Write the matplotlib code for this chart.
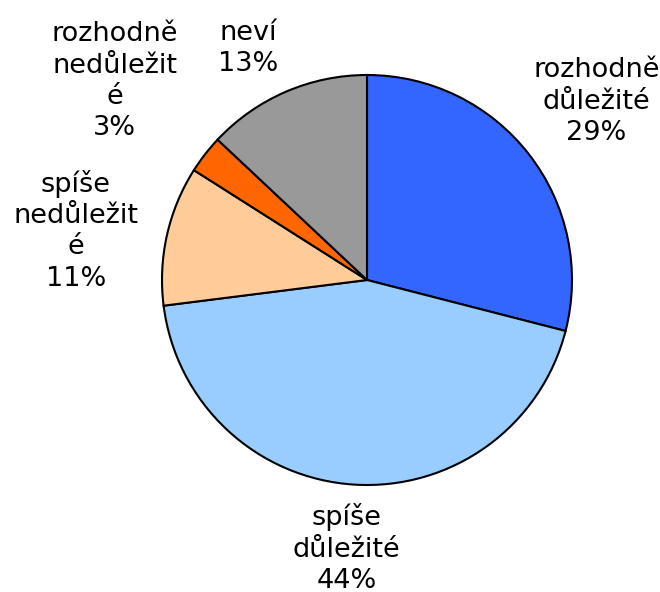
import matplotlib
matplotlib.use("Agg")
import matplotlib.pyplot as plt

labels = ["rozhodně\ndůležité", "spíše\ndůležité", "spíše\nnedůležit\né", "rozhodně\nnedůležit\né", "neví"]
values = [29, 44, 11, 3, 13]
colors = ["#3366FF", "#99CCFF", "#FFCC99", "#FF6600", "#999999"]
# label positions in pie units (radius = 1)
label_pos = [(1.12, 0.87), (-0.10, -1.31), (-1.42, 0.24), (-1.23, 0.97), (-0.58, 1.13)]

fig = plt.figure(figsize=(6.6, 5.92), dpi=100)
ax = fig.add_axes([0, 0, 1, 1])

ax.pie(values, colors=colors, startangle=90, counterclock=False,
       wedgeprops=dict(edgecolor="black", linewidth=1.5))

for lab, v, (x, y) in zip(labels, values, label_pos):
    ax.text(x, y, f"{lab}\n{v}%", ha="center", va="center",
            fontsize=19.5, linespacing=1.26, family="DejaVu Sans")

r = 205.0
ax.set_xlim(-367 / r, (660 - 367) / r)
ax.set_ylim(-(592 - 280) / r, 280 / r)
ax.set_aspect("equal")
ax.axis("off")

fig.savefig("out.png", dpi=100)
